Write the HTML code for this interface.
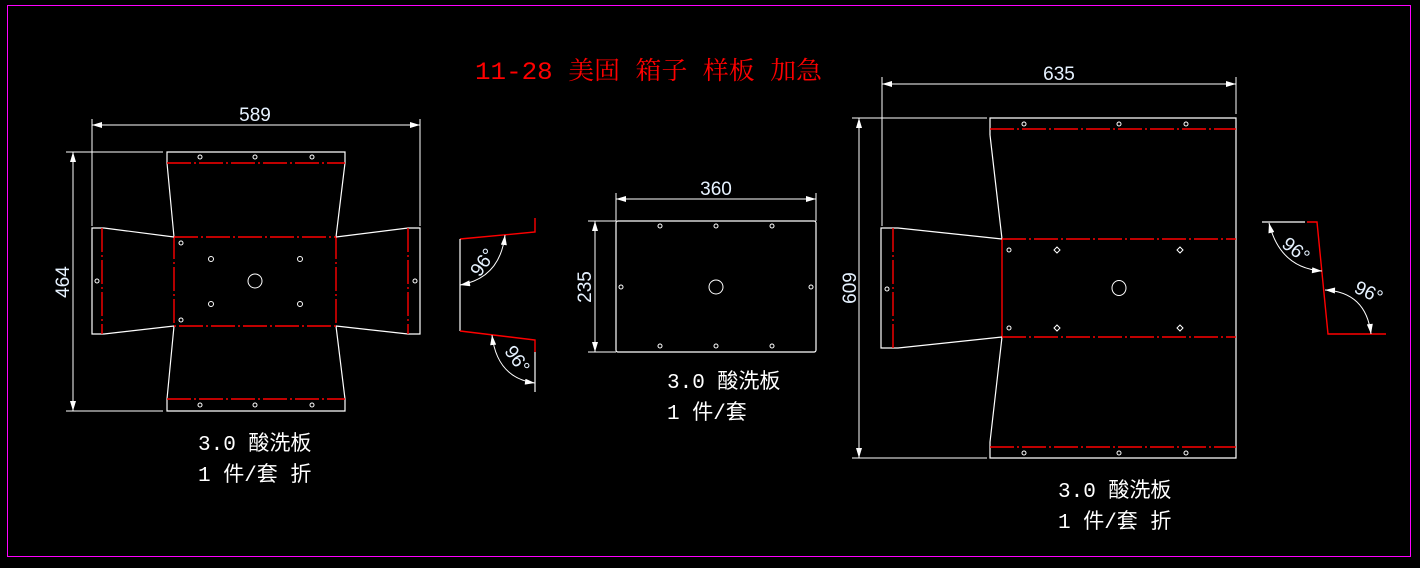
<!DOCTYPE html>
<html><head><meta charset="utf-8"><style>
html,body{margin:0;padding:0;background:#000;}
svg{display:block;}
.w{stroke:#fff;stroke-width:1.2;fill:none}
.r{stroke:#ff0000;stroke-width:1.4;fill:none;stroke-dasharray:24 3 2 3}
.rs{stroke:#ff0000;stroke-width:1.4;fill:none}
.h{stroke:#fff;stroke-width:1;fill:none}
.dt{fill:#e6f2ff;font-family:"Liberation Sans Narrow","Liberation Sans",sans-serif;font-size:19px}
.lb{fill:#fff;font-family:"Liberation Mono","Noto Sans CJK SC",monospace;font-size:21px}
</style></head><body>
<svg width="1420" height="568" viewBox="0 0 1420 568" xmlns="http://www.w3.org/2000/svg">
<defs>
<marker id="a" viewBox="0 0 10 6" refX="10" refY="3" markerWidth="14" markerHeight="6" orient="auto-start-reverse" markerUnits="userSpaceOnUse"><path d="M0,0L10,3L0,6z" fill="#fff"/></marker>
</defs>
<rect x="7.5" y="5.5" width="1403" height="551" fill="none" stroke="#ff00ff" stroke-width="1"/>
<text x="475" y="79" fill="#ff0000" font-family="Liberation Mono,'Noto Serif CJK SC',serif" font-size="25" textLength="347" lengthAdjust="spacingAndGlyphs">11-28 美固 箱子 样板 加急</text>

<!-- LEFT -->
<line class="h" x1="92" y1="125" x2="420" y2="125" marker-start="url(#a)" marker-end="url(#a)"/>
<line class="h" x1="92" y1="119" x2="92" y2="226"/><line class="h" x1="420" y1="119" x2="420" y2="226"/>
<text class="dt" x="255" y="121" text-anchor="middle">589</text>
<line class="h" x1="73" y1="152" x2="73" y2="411" marker-start="url(#a)" marker-end="url(#a)"/>
<line class="h" x1="66" y1="152" x2="163" y2="152"/><line class="h" x1="66" y1="411" x2="163" y2="411"/>
<text class="dt" transform="translate(69,282) rotate(-90)" text-anchor="middle">464</text>
<path class="w" d="M167,163 L167,152 L345,152 L345,163 L336,237 M167,163 L174,237"/>
<line class="r" x1="167" y1="163" x2="345" y2="163"/>
<path class="w" d="M167,399 L167,411 L345,411 L345,399 L336,326 M167,399 L174,326"/>
<line class="r" x1="167" y1="399" x2="345" y2="399"/>
<rect class="r" x="174" y="237" width="162" height="89"/>
<path class="w" d="M174,237 L104,228 L92,228 L92,334 L104,334 L174,326"/>
<line class="r" x1="102" y1="228" x2="102" y2="334"/>
<path class="w" d="M336,237 L408,228 L420,228 L420,334 L408,334 L336,326"/>
<line class="r" x1="408" y1="228" x2="408" y2="334"/>
<g class="h">
<circle cx="200" cy="157" r="2"/><circle cx="255" cy="157" r="2"/><circle cx="312" cy="157" r="2"/>
<circle cx="200" cy="405" r="2"/><circle cx="255" cy="405" r="2"/><circle cx="312" cy="405" r="2"/>
<circle cx="181" cy="243" r="2"/><circle cx="181" cy="320" r="2"/>
<circle cx="211" cy="259" r="2.5"/><circle cx="300" cy="259" r="2.5"/><circle cx="211" cy="304" r="2.5"/><circle cx="300" cy="304" r="2.5"/>
<circle cx="255" cy="281" r="7"/><circle cx="97" cy="281" r="2"/><circle cx="415" cy="281" r="2"/>
</g>
<path class="rs" d="M460,239 L535,232 L535,218"/>
<line class="w" x1="460" y1="239" x2="460" y2="331"/>
<path class="rs" d="M460,331 L535,340 L535,352"/>
<line class="w" x1="535" y1="352" x2="535" y2="392"/>
<path class="h" d="M505,235 Q500,278 460,285" marker-start="url(#a)" marker-end="url(#a)"/>
<path class="h" d="M492,335 Q497,378 535,383" marker-start="url(#a)" marker-end="url(#a)"/>
<text class="dt" transform="translate(488,266) rotate(-55)" text-anchor="middle">96°</text>
<text class="dt" transform="translate(512,363) rotate(55)" text-anchor="middle">96°</text>
<text class="lb" x="198" y="450">3.0 酸洗板</text>
<text class="lb" x="198" y="481">1 件/套 折</text>

<!-- MIDDLE -->
<line class="h" x1="616" y1="199" x2="816" y2="199" marker-start="url(#a)" marker-end="url(#a)"/>
<line class="h" x1="616" y1="193" x2="616" y2="221"/><line class="h" x1="816" y1="193" x2="816" y2="221"/>
<text class="dt" x="716" y="195" text-anchor="middle">360</text>
<line class="h" x1="595" y1="221" x2="595" y2="352" marker-start="url(#a)" marker-end="url(#a)"/>
<line class="h" x1="588" y1="221" x2="616" y2="221"/><line class="h" x1="588" y1="352" x2="616" y2="352"/>
<text class="dt" transform="translate(591,287) rotate(-90)" text-anchor="middle">235</text>
<rect class="w" x="616" y="221" width="200" height="131" rx="2"/>
<g class="h">
<circle cx="660" cy="226" r="2"/><circle cx="716" cy="226" r="2"/><circle cx="772" cy="226" r="2"/>
<circle cx="660" cy="346" r="2"/><circle cx="716" cy="346" r="2"/><circle cx="772" cy="346" r="2"/>
<circle cx="621" cy="287" r="2"/><circle cx="811" cy="287" r="2"/><circle cx="716" cy="287" r="7"/>
</g>
<text class="lb" x="667" y="388">3.0 酸洗板</text>
<text class="lb" x="667" y="419">1 件/套</text>

<!-- RIGHT -->
<line class="h" x1="882" y1="84" x2="1236" y2="84" marker-start="url(#a)" marker-end="url(#a)"/>
<line class="h" x1="882" y1="77" x2="882" y2="226"/><line class="h" x1="1236" y1="77" x2="1236" y2="114"/>
<text class="dt" x="1059" y="80" text-anchor="middle">635</text>
<line class="h" x1="859" y1="118" x2="859" y2="458" marker-start="url(#a)" marker-end="url(#a)"/>
<line class="h" x1="852" y1="118" x2="987" y2="118"/><line class="h" x1="852" y1="458" x2="987" y2="458"/>
<text class="dt" transform="translate(856,288) rotate(-90)" text-anchor="middle">609</text>
<path class="w" d="M990,135 L990,118 L1236,118 L1236,458 L990,458 L990,442 L1002,337 M990,135 L1002,239"/>
<line class="r" x1="990" y1="129" x2="1236" y2="129"/>
<line class="r" x1="990" y1="447" x2="1236" y2="447"/>
<line class="r" x1="1002" y1="239" x2="1236" y2="239"/>
<line class="r" x1="1002" y1="337" x2="1236" y2="337"/>
<line class="rs" x1="1002" y1="239" x2="1002" y2="337"/>
<path class="w" d="M1002,239 L898,228 L881,228 L881,348 L898,348 L1002,337"/>
<line class="r" x1="893" y1="228" x2="893" y2="348"/>
<g class="h">
<circle cx="1024" cy="124" r="2"/><circle cx="1119" cy="124" r="2"/><circle cx="1186" cy="124" r="2"/>
<circle cx="1024" cy="453" r="2"/><circle cx="1119" cy="453" r="2"/><circle cx="1186" cy="453" r="2"/>
<circle cx="887" cy="289" r="2"/><circle cx="1009" cy="250" r="2"/><circle cx="1009" cy="328" r="2"/>
<path d="M1057,247l3,3l-3,3l-3,-3z M1180,247l3,3l-3,3l-3,-3z M1057,325l3,3l-3,3l-3,-3z M1180,325l3,3l-3,3l-3,-3z"/>
<ellipse cx="1119" cy="288" rx="7" ry="7.5"/>
</g>
<line class="w" x1="1262" y1="222" x2="1305" y2="222"/>
<path class="rs" d="M1307,222 L1317,222 L1328,334 L1386,334"/>
<path class="h" d="M1269,223 Q1280,268 1322,271" marker-start="url(#a)" marker-end="url(#a)"/>
<path class="h" d="M1325,290 Q1366,292 1371,334" marker-start="url(#a)" marker-end="url(#a)"/>
<text class="dt" transform="translate(1292,255) rotate(38)" text-anchor="middle">96°</text>
<text class="dt" transform="translate(1366,298) rotate(25)" text-anchor="middle">96°</text>
<text class="lb" x="1058" y="497">3.0 酸洗板</text>
<text class="lb" x="1058" y="528">1 件/套 折</text>
</svg>
</body></html>
